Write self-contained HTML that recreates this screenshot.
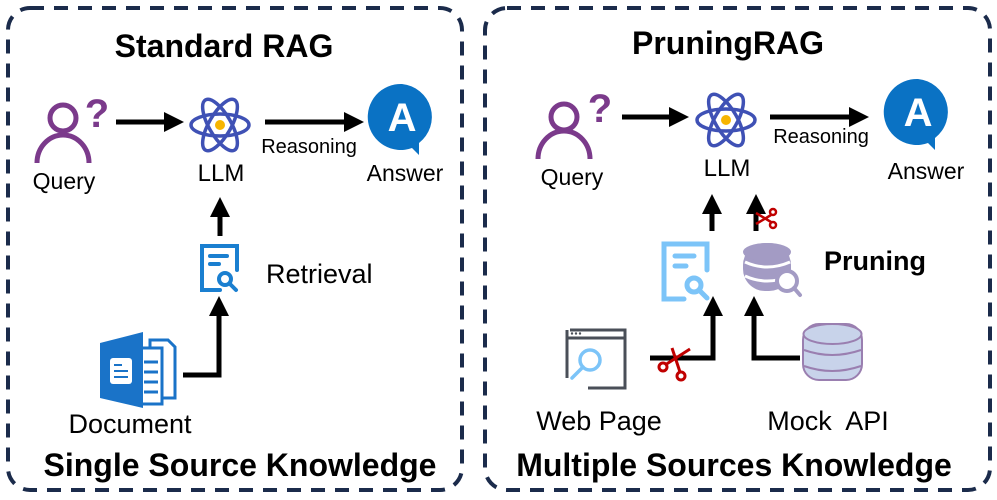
<!DOCTYPE html>
<html><head><meta charset="utf-8"><style>
html,body{margin:0;padding:0;background:#fff;}
svg{display:block;}
text{font-family:"Liberation Sans",Arial,sans-serif;}
</style></head><body>
<svg width="997" height="500" viewBox="0 0 997 500" xmlns="http://www.w3.org/2000/svg">
<defs>
<marker id="ah" markerWidth="4" markerHeight="4" refX="2.2" refY="2" orient="auto" markerUnits="strokeWidth">
<path d="M0,0 L4,2 L0,4 z" fill="#000"/></marker>
</defs>
<rect x="8" y="8" width="454" height="482" rx="22" fill="none" stroke="#1b2b4b" stroke-width="4" stroke-dasharray="14 10"/>
<rect x="485" y="8" width="505" height="482" rx="22" fill="none" stroke="#1b2b4b" stroke-width="4" stroke-dasharray="14 10"/>

<text x="224" y="57" font-size="32" font-weight="bold" text-anchor="middle">Standard RAG</text>
<text x="728" y="54" font-size="32" font-weight="bold" text-anchor="middle">PruningRAG</text>
<text x="240" y="476" font-size="32" font-weight="bold" text-anchor="middle">Single Source Knowledge</text>
<text x="734" y="476" font-size="32" font-weight="bold" text-anchor="middle">Multiple Sources Knowledge</text>

<g transform="translate(63,118)" stroke="#7b3a8b" stroke-width="5" fill="none">
<circle cx="0" cy="0" r="13"/>
<path d="M-26,45 A26,28 0 0 1 26,45"/>
</g>
<text x="97" y="127" font-size="40" font-weight="bold" fill="#7b3a8b" text-anchor="middle">?</text>
<text x="64" y="189" font-size="23" text-anchor="middle">Query</text>

<line x1="116" y1="122" x2="175" y2="122" stroke="#000" stroke-width="5" marker-end="url(#ah)"/>

<g transform="translate(220,125)" stroke="#3f51b5" stroke-width="3.5" fill="none">
<ellipse rx="29" ry="11"/>
<ellipse rx="29" ry="11" transform="rotate(60)"/>
<ellipse rx="29" ry="11" transform="rotate(-60)"/>
<circle r="5" fill="#f7b500" stroke="none"/>
</g>
<text x="221" y="181" font-size="24" text-anchor="middle">LLM</text>

<line x1="265" y1="122" x2="355" y2="122" stroke="#000" stroke-width="5" marker-end="url(#ah)"/>
<text x="309" y="153" font-size="20" text-anchor="middle">Reasoning</text>

<g transform="translate(402,117)">
<path d="M0,-33 A33,33 0 1 0 10,31 L17,38 L17,26 A33,33 0 0 0 0,-33 z" fill="#0a72c4"/>
<text x="0" y="14" font-size="40" font-weight="bold" fill="#fff" text-anchor="middle">A</text>
</g>
<text x="405" y="181" font-size="23" text-anchor="middle">Answer</text>

<line x1="220" y1="236" x2="220" y2="206" stroke="#000" stroke-width="5" marker-end="url(#ah)"/>

<g stroke="#1a7fd0" stroke-width="4" fill="none" stroke-linecap="round">
<path d="M220,290 L202,290 L202,246 L237,246 L237,270"/>
<line x1="210" y1="256" x2="227" y2="256"/>
<line x1="210" y1="264" x2="219" y2="264"/>
<circle cx="225" cy="279" r="6"/>
<line x1="230" y1="284" x2="236" y2="290"/>
</g>
<text x="266" y="283" font-size="27">Retrieval</text>

<g>
<path d="M150,340 L168,340 L175,347 L175,398 L150,398 z" fill="#fff" stroke="#1a73c8" stroke-width="3"/>
<path d="M140,348 L162,348 L162,404 L140,404 z" fill="#fff" stroke="#1a73c8" stroke-width="3"/>
<line x1="144" y1="362" x2="158" y2="362" stroke="#1a73c8" stroke-width="3"/>
<line x1="144" y1="372" x2="158" y2="372" stroke="#1a73c8" stroke-width="3"/>
<line x1="144" y1="382" x2="158" y2="382" stroke="#1a73c8" stroke-width="3"/>
<line x1="144" y1="392" x2="158" y2="392" stroke="#1a73c8" stroke-width="3"/>
<path d="M100,343 L143,332 L143,408 L100,398 z" fill="#1a73c8"/>
<rect x="110" y="358" width="22" height="26" rx="3" fill="#fff"/>
<line x1="114" y1="365" x2="122" y2="365" stroke="#1a73c8" stroke-width="2"/>
<line x1="114" y1="371" x2="128" y2="371" stroke="#1a73c8" stroke-width="2"/>
<line x1="114" y1="377" x2="128" y2="377" stroke="#1a73c8" stroke-width="2"/>
</g>
<polyline points="183,375 219,375 219,305" fill="none" stroke="#000" stroke-width="5" marker-end="url(#ah)"/>
<text x="130" y="433" font-size="27" text-anchor="middle">Document</text>

<g transform="translate(564,117)" stroke="#7b3a8b" stroke-width="5" fill="none">
<circle cx="0" cy="0" r="13"/>
<path d="M-26,42 A26,28 0 0 1 26,42"/>
</g>
<text x="600" y="122" font-size="40" font-weight="bold" fill="#7b3a8b" text-anchor="middle">?</text>
<text x="572" y="185" font-size="23" text-anchor="middle">Query</text>

<line x1="622" y1="117" x2="680" y2="117" stroke="#000" stroke-width="5" marker-end="url(#ah)"/>

<g transform="translate(726,120)" stroke="#3f51b5" stroke-width="3.5" fill="none">
<ellipse rx="29" ry="11"/>
<ellipse rx="29" ry="11" transform="rotate(60)"/>
<ellipse rx="29" ry="11" transform="rotate(-60)"/>
<circle r="5" fill="#f7b500" stroke="none"/>
</g>
<text x="727" y="176" font-size="24" text-anchor="middle">LLM</text>

<line x1="770" y1="117" x2="860" y2="117" stroke="#000" stroke-width="5" marker-end="url(#ah)"/>
<text x="821" y="143" font-size="20" text-anchor="middle">Reasoning</text>

<g transform="translate(918,112)">
<path d="M0,-33 A33,33 0 1 0 10,31 L17,38 L17,26 A33,33 0 0 0 0,-33 z" fill="#0a72c4"/>
<text x="0" y="14" font-size="40" font-weight="bold" fill="#fff" text-anchor="middle">A</text>
</g>
<text x="926" y="179" font-size="23" text-anchor="middle">Answer</text>

<line x1="712" y1="231" x2="712" y2="203" stroke="#000" stroke-width="5" marker-end="url(#ah)"/>
<line x1="756" y1="231" x2="756" y2="203" stroke="#000" stroke-width="5" marker-end="url(#ah)"/>
<g stroke="#c00000" stroke-width="2.5" fill="none">
<line x1="756" y1="213" x2="771" y2="222"/>
<line x1="756" y1="224" x2="771" y2="215"/>
<circle cx="773" cy="212" r="3"/>
<circle cx="773" cy="225" r="3"/>
</g>

<g stroke="#7cc4f8" stroke-width="5" fill="none" stroke-linecap="round">
<path d="M684,299 L664,299 L664,244 L707,244 L707,270"/>
<line x1="675" y1="256" x2="694" y2="256"/>
<line x1="675" y1="266" x2="686" y2="266"/>
<circle cx="694" cy="285" r="7"/>
<line x1="700" y1="291" x2="707" y2="298"/>
</g>

<g>
<rect x="743" y="243" width="48" height="48" rx="22" fill="#a39bc4"/>
<ellipse cx="767" cy="252" rx="24" ry="9" fill="#a39bc4"/>
<path d="M745,262 Q767,272 790,262 M745,276 Q767,286 790,276" stroke="#fff" stroke-width="3" fill="none"/>
<circle cx="787" cy="281" r="10" fill="#fff" stroke="#a39bc4" stroke-width="4"/>
<line x1="794" y1="288" x2="800" y2="295" stroke="#a39bc4" stroke-width="4" stroke-linecap="round"/>
</g>
<text x="824" y="270" font-size="27" font-weight="bold">Pruning</text>

<g stroke="#4a4f58" stroke-width="3" fill="none">
<path d="M570,330 L625,330 L625,388 L588,388"/>
<path d="M567,378 L567,330"/>
<line x1="568" y1="338" x2="624" y2="338"/>
</g>
<g fill="#4a4f58"><circle cx="572" cy="333.5" r="1.2"/><circle cx="576" cy="333.5" r="1.2"/><circle cx="580" cy="333.5" r="1.2"/></g>
<g stroke="#7cc4f8" stroke-width="3.5" fill="none" stroke-linecap="round">
<circle cx="590" cy="360" r="10"/>
<line x1="583" y1="367" x2="572" y2="378"/>
</g>

<polyline points="650,358 713,358 713,305" fill="none" stroke="#000" stroke-width="5" marker-end="url(#ah)"/>
<g stroke="#c00000" stroke-width="3" fill="none">
<line x1="665" y1="365" x2="690" y2="349"/>
<line x1="672" y1="348" x2="680" y2="372"/>
<circle cx="663" cy="367" r="4"/>
<circle cx="681" cy="376" r="4"/>
</g>

<polyline points="800,358 754,358 754,305" fill="none" stroke="#000" stroke-width="5" marker-end="url(#ah)"/>

<g stroke="#9a7fb0" stroke-width="2" fill="#c8d3ea">
<rect x="803" y="324" width="59" height="56" rx="16"/>
<ellipse cx="832.5" cy="334" rx="29" ry="10"/>
</g>
<path d="M804,350 Q832,360 861,350 M804,366 Q832,376 861,366" stroke="#9a7fb0" stroke-width="2" fill="none"/>
<text x="599" y="430" font-size="27" text-anchor="middle">Web Page</text>
<text x="828" y="430" font-size="27" text-anchor="middle" xml:space="preserve">Mock  API</text>
</svg>
</body></html>
